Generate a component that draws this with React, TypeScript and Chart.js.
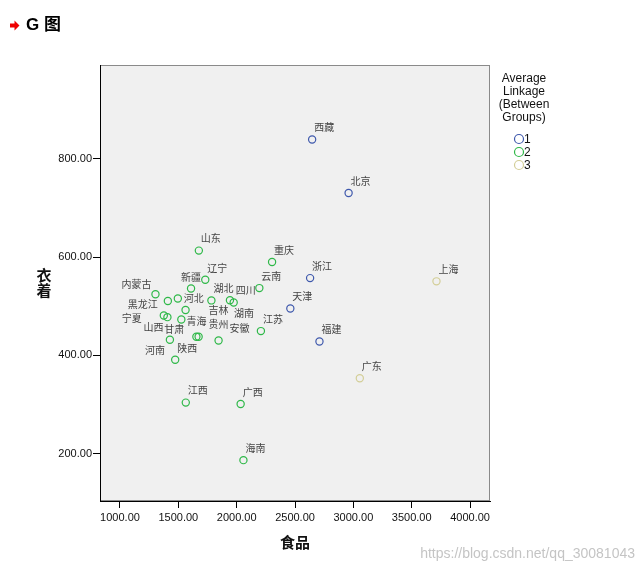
import React, { useEffect, useRef } from "react";
import { Chart, registerables } from "chart.js";

Chart.register(...registerables);

const provinces = ["北京", "天津", "河北", "山西", "内蒙古", "辽宁", "吉林", "黑龙江", "上海", "江苏", "浙江", "安徽", "福建", "江西", "山东", "河南", "湖北", "湖南", "广东", "广西", "海南", "重庆", "四川", "贵州", "云南", "西藏", "陕西", "甘肃", "青海", "宁夏", "新疆"];
const food = [2959.19, 2459.77, 1495.63, 1406.33, 1303.97, 1730.84, 1561.86, 1410.11, 3712.31, 2207.58, 2629.16, 1844.78, 2709.46, 1563.78, 1675.75, 1427.65, 1783.43, 1942.23, 3055.17, 2033.87, 2057.86, 2303.29, 1974.28, 1673.82, 2194.25, 2646.61, 1472.95, 1525.57, 1654.69, 1375.46, 1608.82];
const clothing = [730.79, 495.47, 515.9, 477.77, 524.29, 553.9, 492.42, 510.71, 550.74, 449.37, 557.32, 430.29, 428.11, 303.65, 613.32, 431.79, 511.88, 512.27, 353.23, 300.82, 186.44, 589.99, 507.76, 437.75, 537.01, 839.7, 390.89, 472.98, 437.77, 480.99, 536.05];
const cluster = [1, 1, 2, 2, 2, 2, 2, 2, 3, 2, 1, 2, 1, 2, 2, 2, 2, 2, 3, 2, 2, 2, 2, 2, 2, 1, 2, 2, 2, 2, 2];
const clusterNames = ["1", "2", "3"];
const clusterColors = ["#3E58AC", "#2EB848", "#D3CE97"];
const xTicks = [1000, 1500, 2000, 2500, 3000, 3500, 4000];
const yTicks = [200, 400, 600, 800];
const legendTitle = ["Average", "Linkage", "(Between", "Groups)"];
const xTitle = "食品";
const yTitle = ["衣", "着"];
const chartTitle = "G 图";
const watermark = "https://blog.csdn.net/qq_30081043";

// label placement offsets (style), default above-right
const defaultOffset: [number, number] = [12, -12];
const labelOffsets: Record<string, [number, number]> = {
  新疆: [0, -11],
  内蒙古: [-19, -10],
  河北: [16, 0],
  黑龙江: [-25, 3],
  湖南: [14, 13],
  吉林: [33, 0],
  宁夏: [-32, 3],
  山西: [-14, 10],
  甘肃: [-7, 10],
  青海: [0, -16],
  贵州: [20, -13],
  安徽: [21, -12],
  河南: [-15, 10],
};

const CJK = "'Noto Sans CJK SC', 'Liberation Sans', sans-serif";
const LAT = "'Liberation Sans', Arial, sans-serif";

const decorPlugin = {
  id: "decor",
  beforeDraw(chart: any) {
    const { ctx, chartArea: a } = chart;
    ctx.save();
    ctx.fillStyle = "#ffffff";
    ctx.fillRect(0, 0, chart.width, chart.height);
    ctx.fillStyle = "#F0F0F0";
    ctx.fillRect(a.left, a.top, a.right - a.left, a.bottom - a.top);
    ctx.strokeStyle = "#8a8a8a";
    ctx.lineWidth = 1;
    ctx.strokeRect(a.left + 0.5, a.top + 0.5, a.right - a.left - 1, a.bottom - a.top - 1);
    ctx.restore();
  },
  afterDatasetsDraw(chart: any) {
    const { ctx } = chart;
    ctx.save();
    ctx.font = `10px ${CJK}`;
    ctx.fillStyle = "#444";
    ctx.textAlign = "center";
    ctx.textBaseline = "middle";
    chart.data.datasets.forEach((ds: any, di: number) => {
      const meta = chart.getDatasetMeta(di);
      meta.data.forEach((pt: any, i: number) => {
        const name = ds.data[i].name;
        const [dx, dy] = labelOffsets[name] || defaultOffset;
        ctx.fillText(name, pt.x + dx, pt.y + dy);
      });
    });
    ctx.restore();
  },
  afterDraw(chart: any) {
    const { ctx } = chart;
    ctx.save();
    // y title stacked
    ctx.font = `bold 15px ${CJK}`;
    ctx.fillStyle = "#111";
    ctx.textAlign = "center";
    ctx.textBaseline = "middle";
    yTitle.forEach((c, i) => ctx.fillText(c, 44, 275 + i * 15));
    // legend
    ctx.font = `12px ${LAT}`;
    ctx.fillStyle = "#111";
    legendTitle.forEach((t, i) => ctx.fillText(t, 524, 79 + i * 13));
    chart.data.datasets.forEach((ds: any, i: number) => {
      const y = 139 + i * 13;
      ctx.beginPath();
      ctx.arc(519, y, 4.5, 0, Math.PI * 2);
      ctx.strokeStyle = ds.borderColor;
      ctx.lineWidth = 1.2;
      ctx.stroke();
      ctx.textAlign = "left";
      ctx.fillStyle = "#111";
      ctx.fillText(ds.label, 524, y + 0.5);
    });
    // chart title with red arrow
    ctx.fillStyle = "#ee0000";
    ctx.beginPath();
    ctx.moveTo(10, 23.5);
    ctx.lineTo(14.5, 23.5);
    ctx.lineTo(14.5, 20.5);
    ctx.lineTo(19.5, 25.5);
    ctx.lineTo(14.5, 30.5);
    ctx.lineTo(14.5, 27.5);
    ctx.lineTo(10, 27.5);
    ctx.closePath();
    ctx.fill();
    ctx.fillStyle = "#000";
    ctx.textAlign = "left";
    ctx.font = `bold 17px ${LAT}, 'Noto Sans CJK SC'`;
    ctx.fillText(chartTitle, 26, 25);
    // watermark
    ctx.font = `14px ${LAT}`;
    ctx.fillStyle = "rgba(190,190,190,0.9)";
    ctx.textAlign = "right";
    ctx.fillText(watermark, 635, 554);
    ctx.restore();
  },
};

export default function App() {
  const ref = useRef<HTMLCanvasElement>(null);
  useEffect(() => {
    if (!ref.current) return;
    const datasets = clusterNames.map((label, ci) => ({
      label,
      data: provinces
        .map((name, i) => ({ x: food[i], y: clothing[i], name, c: cluster[i] }))
        .filter((d) => d.c === ci + 1),
      borderColor: clusterColors[ci],
      backgroundColor: "rgba(0,0,0,0)",
      pointRadius: 3.6,
      pointBorderWidth: 1.2,
      pointHoverRadius: 3.6,
      showLine: false,
    }));
    const chart = new Chart(ref.current, {
      type: "scatter",
      data: { datasets },
      plugins: [decorPlugin],
      options: {
        animation: false,
        responsive: false,
        layout: { padding: { left: 0, right: 153, top: 65, bottom: 0 } },
        plugins: { legend: { display: false }, tooltip: { enabled: false }, title: { display: false } },
        scales: {
          x: {
            type: "linear",
            min: 828.6,
            max: 4171,
            afterBuildTicks: (s: any) => {
              s.ticks = xTicks.map((v) => ({ value: v }));
            },
            afterFit: (s: any) => {
              s.height = 72;
            },
            grid: { display: true, drawOnChartArea: false, drawTicks: true, tickLength: 7, color: "#000", lineWidth: 1 },
            border: { display: true, color: "#000", width: 1 },
            ticks: {
              autoSkip: false,
              maxRotation: 0,
              padding: 3,
              color: "#111",
              font: { family: LAT, size: 11 },
              callback: (v: any) => Number(v).toFixed(2),
            },
            title: {
              display: true,
              text: xTitle,
              color: "#111",
              font: { family: CJK, size: 15, weight: "bold" },
              padding: { top: 0, bottom: 22 },
            },
          },
          y: {
            type: "linear",
            min: 103.2,
            max: 991.5,
            afterBuildTicks: (s: any) => {
              s.ticks = yTicks.map((v) => ({ value: v }));
            },
            afterFit: (s: any) => {
              s.width = 100;
            },
            grid: { display: true, drawOnChartArea: false, drawTicks: true, tickLength: 7, color: "#000", lineWidth: 1 },
            border: { display: true, color: "#000", width: 1 },
            ticks: {
              autoSkip: false,
              padding: 1,
              color: "#111",
              font: { family: LAT, size: 11 },
              callback: (v: any) => Number(v).toFixed(2),
            },
            title: { display: false },
          },
        },
      } as any,
    });
    return () => chart.destroy();
  }, []);
  return (
    <div style={{ position: "absolute", left: 0, top: 0, width: 643, height: 573 }}>
      <canvas ref={ref} width={643} height={573} style={{ display: "block", width: 643, height: 573 }} />
    </div>
  );
}
